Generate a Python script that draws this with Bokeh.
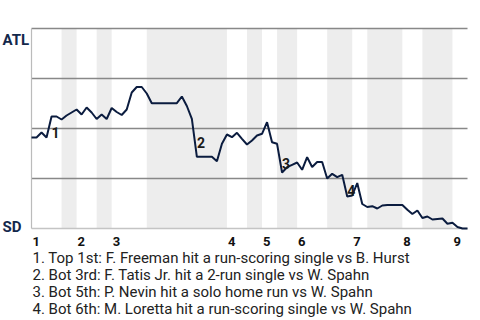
from bokeh.plotting import figure
from bokeh.models import Range1d, Label
from bokeh.embed import file_html
from bokeh.resources import INLINE

# ATL win probability after each plate appearance (0 = SD wins, 1 = ATL wins)
win_prob = [
    0.455, 0.455, 0.48, 0.455, 0.56, 0.56, 0.545, 0.565, 0.58, 0.595,
    0.57, 0.605, 0.58, 0.5475, 0.57, 0.5475, 0.6025, 0.5825, 0.5675, 0.595,
    0.68, 0.7075, 0.7075, 0.675, 0.6265, 0.6265, 0.6265, 0.6265, 0.6265, 0.6265,
    0.66, 0.6125, 0.5485, 0.3585, 0.3585, 0.3585, 0.3585, 0.3365, 0.4235, 0.47,
    0.4565, 0.4785, 0.4485, 0.42, 0.44, 0.465, 0.4735, 0.5315, 0.4315, 0.4235,
    0.28, 0.3065, 0.3185, 0.33, 0.2935, 0.3565, 0.3075, 0.3325, 0.3325, 0.25,
    0.2735, 0.2565, 0.2685, 0.16, 0.165, 0.2275, 0.1225, 0.1075, 0.1115, 0.10,
    0.115, 0.1175, 0.1175, 0.1175, 0.1175, 0.0935, 0.0725, 0.09, 0.0525, 0.06,
    0.045, 0.0475, 0.05, 0.0235, 0.0285, 0.0075, 0.0, 0.0,
]
events = list(range(len(win_prob)))

# event index where each half inning starts (top 1st, bot 1st, top 2nd, ...), plus the end
half_inning_starts = [0, 6, 9, 13, 16, 23, 39, 43, 46, 49, 53, 59, 64, 67, 74, 78, 84, 87]
inning_labels = ["1", "2", "3", "4", "5", "6", "7", "8", "9"]

scoring_events = [4, 33, 50, 63]
scoring_labels = ["1", "2", "3", "4"]
descriptions = [
    "1. Top 1st: F. Freeman hit a run-scoring single vs B. Hurst",
    "2. Bot 3rd: F. Tatis Jr. hit a 2-run single vs W. Spahn",
    "3. Bot 5th: P. Nevin hit a solo home run vs W. Spahn",
    "4. Bot 6th: M. Loretta hit a run-scoring single vs W. Spahn",
]
team_top = "ATL"
team_bottom = "SD"
grid_levels = [0.25, 0.5, 0.75, 1.0]

FONT = "Roboto"
NAVY = "#13284b"

# layout (pixels) of the chart area inside the 480x320 canvas
W, H = 480, 320
PX_LEFT, PX_RIGHT, PX_TOP, PX_BOTTOM = 31, 467, 28, 228
n_events = half_inning_starts[-1]
ux = (PX_RIGHT - PX_LEFT) / n_events
uy = (PX_BOTTOM - PX_TOP) / 1.0
x_range = Range1d(-PX_LEFT / ux, n_events + (W - PX_RIGHT) / ux)
y_range = Range1d(-(H - PX_BOTTOM) / uy, 1 + PX_TOP / uy)

p = figure(width=W, height=H, output_backend="svg", toolbar_location=None,
           x_axis_type=None, y_axis_type=None,
           x_range=x_range, y_range=y_range, min_border=0)
p.outline_line_color = None
p.grid.visible = False
p.background_fill_color = "white"

# shaded bottom halves
lefts = half_inning_starts[1::2]
rights = half_inning_starts[2::2]
p.quad(left=lefts, right=rights, bottom=0, top=1, fill_color="#ededed", line_color=None)

# horizontal grid lines
for g in grid_levels:
    p.line([0, n_events], [g, g], line_color="#888888", line_width=1.5)
p.line([0, n_events], [0, 0], line_color="#c4c4c4", line_width=1.5)
p.line([0, 0], [0, 1], line_color="#bbbbbb", line_width=1.2)

p.line(events, win_prob, line_color="#0b1c3f", line_width=2)

# scoring play markers
for ev, lab in zip(scoring_events, scoring_labels):
    ymid = (win_prob[ev - 1] + win_prob[ev]) / 2
    p.add_layout(Label(x=ev, y=ymid, text=lab, text_font=FONT, text_font_size="14px",
                       text_font_style="bold", text_color="#1a1a1a",
                       text_baseline="middle", text_align="left", y_offset=-5))

# inning numbers
inning_starts = half_inning_starts[0:-1:2]
for st, lab in zip(inning_starts, inning_labels):
    p.add_layout(Label(x=st, y=0, text=lab, text_font=FONT, text_font_size="13px",
                       text_font_style="bold", text_color="#111111",
                       text_baseline="alphabetic", text_align="left",
                       x_offset=1, y_offset=-13))

# team labels
p.add_layout(Label(x=0, y=1, text=team_top, text_font=FONT, text_font_size="15px",
                   text_font_style="bold", text_color=NAVY, text_baseline="alphabetic",
                   text_align="left", x_offset=-29, y_offset=-11))
p.add_layout(Label(x=0, y=0, text=team_bottom, text_font=FONT, text_font_size="15px",
                   text_font_style="bold", text_color=NAVY, text_baseline="alphabetic",
                   text_align="left", x_offset=-29, y_offset=2))

# descriptions
for i, d in enumerate(descriptions):
    p.add_layout(Label(x=0, y=0, text=d, text_font=FONT, text_font_size="15px",
                       text_color="#222222", text_baseline="alphabetic",
                       text_align="left", x_offset=1, y_offset=-29.3 - 17.2 * i))

open("out.html", "w").write(file_html(p, INLINE))
